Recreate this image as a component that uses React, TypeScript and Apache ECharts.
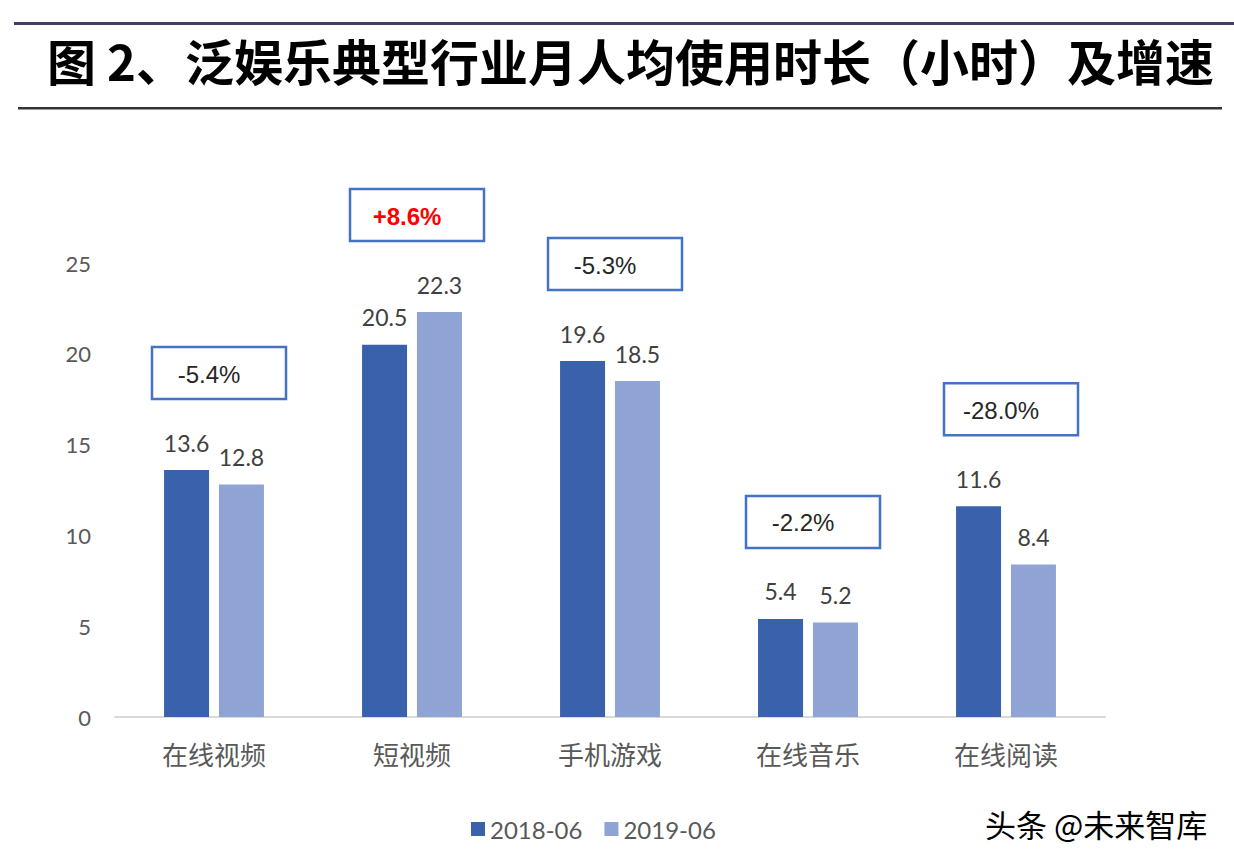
import React, { useEffect, useRef } from "react";
import * as echarts from "echarts";

const categories = ["在线视频", "短视频", "手机游戏", "在线音乐", "在线阅读"];
const series2018 = [13.6, 20.5, 19.6, 5.4, 11.6];
const series2019 = [12.8, 22.3, 18.5, 5.2, 8.4];
const growthLabels = ["-5.4%", "+8.6%", "-5.3%", "-2.2%", "-28.0%"];
const yTicks = [0, 5, 10, 15, 20, 25];
const seriesNames = ["2018-06", "2019-06"];
const titleText = "图 2、泛娱乐典型行业月人均使用时长（小时）及增速";
const watermarkText = "头条 @未来智库";

export default function App() {
  const ref = useRef<HTMLDivElement>(null);
  useEffect(() => {
    document.body.style.margin = "0";
    const chart = echarts.init(ref.current!, undefined, { renderer: "svg" });
    const boxData = categories.map((_, i) => [i, Math.max(series2018[i], series2019[i]), i]);
    const option: any = {
      animation: false,
      backgroundColor: "#ffffff",
      grid: { left: 115, right: 129, top: 263, bottom: 145 },
      legend: {
        data: seriesNames,
        left: 466,
        top: 812,
        itemWidth: 14,
        itemHeight: 14,
        itemGap: 22,
        icon: "rect",
        textStyle: { fontFamily: "Lato", fontSize: 24, color: "#595959" },
      },
      xAxis: {
        type: "category",
        data: categories,
        axisLine: { lineStyle: { color: "#D9D9D9", width: 2 } },
        axisTick: { show: false },
        axisLabel: {
          margin: 23,
          fontFamily: "Noto Sans CJK SC",
          fontSize: 26,
          color: "#595959",
        },
      },
      yAxis: {
        type: "value",
        min: yTicks[0],
        max: yTicks[yTicks.length - 1],
        interval: 5,
        splitLine: { show: false },
        axisLine: { show: false },
        axisTick: { show: false },
        axisLabel: {
          margin: 24,
          fontFamily: "Lato",
          fontSize: 22,
          color: "#595959",
        },
      },
      series: [
        {
          name: seriesNames[0],
          type: "bar",
          data: series2018,
          barWidth: 45,
          barGap: "22%",
          itemStyle: { color: "#3A62AC" },
          label: {
            show: true,
            position: "top",
            distance: 16,
            fontFamily: "Lato",
            fontSize: 23,
            color: "#404040",
          },
        },
        {
          name: seriesNames[1],
          type: "bar",
          data: series2019,
          barWidth: 45,
          barGap: "22%",
          itemStyle: { color: "#8FA4D5" },
          label: {
            show: true,
            position: "top",
            distance: 16,
            fontFamily: "Lato",
            fontSize: 23,
            color: "#404040",
          },
        },
        {
          type: "custom",
          data: boxData,
          clip: false,
          silent: true,
          z: 10,
          encode: { x: 0, y: 1 },
          renderItem: (params: any, api: any) => {
            const idx = api.value(2);
            const pt = api.coord([api.value(0), api.value(1)]);
            const w = 134;
            const h = 52;
            const cx = pt[0] + 5;
            const bottom = pt[1] - 71;
            const label = growthLabels[idx];
            const positive = label.startsWith("+");
            return {
              type: "group",
              children: [
                {
                  type: "rect",
                  shape: { x: cx - w / 2, y: bottom - h, width: w, height: h },
                  style: { fill: "#ffffff", stroke: "#4472C4", lineWidth: 2.5 },
                },
                {
                  type: "text",
                  style: {
                    text: label,
                    x: cx - 10,
                    y: bottom - h / 2 + 1,
                    align: "center",
                    verticalAlign: "middle",
                    fill: positive ? "#FF0000" : "#262626",
                    font: (positive ? "bold " : "") + "24px 'Liberation Sans', Arial, sans-serif",
                  },
                },
              ],
            };
          },
        },
      ],
      graphic: [
        {
          type: "rect",
          shape: { x: 14, y: 22, width: 1220, height: 3 },
          style: { fill: "#3F3F66" },
        },
        {
          type: "text",
          x: 47,
          y: 59,
          style: {
            text: titleText,
            font: "bold 49px 'Noto Sans CJK SC', sans-serif",
            fill: "#000000",
            verticalAlign: "middle",
          },
        },
        {
          type: "rect",
          shape: { x: 18, y: 107, width: 1204, height: 2.5 },
          style: { fill: "#333333" },
        },
        {
          type: "text",
          x: 985,
          y: 823,
          style: {
            text: watermarkText,
            font: "31px 'Noto Sans CJK SC', sans-serif",
            fill: "#000000",
            verticalAlign: "middle",
          },
        },
      ],
    };
    chart.setOption(option);
    return () => chart.dispose();
  }, []);
  return <div ref={ref} style={{ width: 1234, height: 862 }} />;
}
